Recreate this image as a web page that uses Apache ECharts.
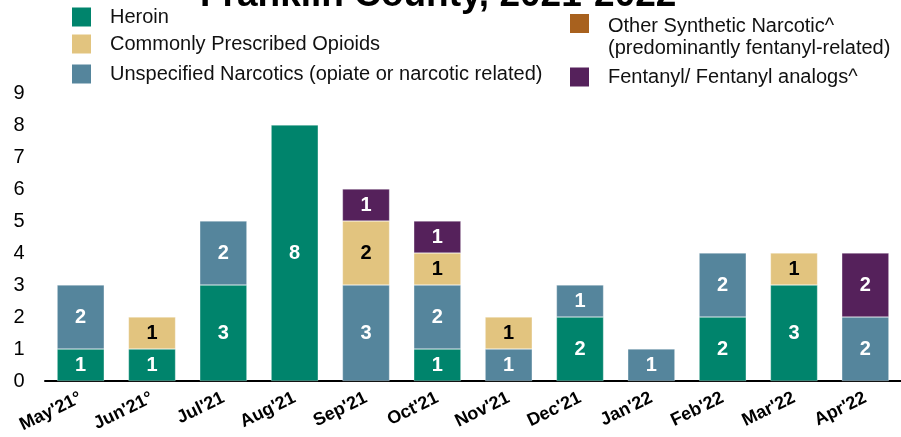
<!DOCTYPE html>
<html>
<head>
<meta charset="utf-8">
<script src="https://cdn.jsdelivr.net/npm/echarts@6/dist/echarts.min.js"></script>
<style>
html,body{margin:0;padding:0;background:#fff;}
#main{width:901px;height:437px;}
</style>
</head>
<body>
<div id="main"></div>
<script>
const categories = ["May'21°","Jun'21°","Jul'21","Aug'21","Sep'21","Oct'21","Nov'21","Dec'21","Jan'22","Feb'22","Mar'22","Apr'22"];
const heroin      = [1,1,3,8,0,1,0,2,0,2,3,0];
const unspecified = [2,0,2,0,3,2,1,1,1,2,0,2];
const prescribed  = [0,1,0,0,2,1,1,0,0,0,1,0];
const otherSynth  = [0,0,0,0,0,0,0,0,0,0,0,0];
const fentanyl    = [0,0,0,0,1,1,0,0,0,0,0,2];
const yTicks = [0,1,2,3,4,5,6,7,8,9];

const FONT = 'Liberation Sans, Arial, sans-serif';
const C = {
  heroin: '#00846C',
  prescribed: '#E2C47F',
  unspecified: '#55859C',
  other: '#A8611E',
  fentanyl: '#55215B'
};
const names = {
  heroin: 'Heroin',
  prescribed: 'Commonly Prescribed Opioids',
  unspecified: 'Unspecified Narcotics (opiate or narcotic related)',
  other: 'Other Synthetic Narcotic^\n(predominantly fentanyl-related)',
  fentanyl: 'Fentanyl/ Fentanyl analogs^'
};

function mkSeries(key, data, labelColor) {
  return {
    name: names[key],
    type: 'bar',
    stack: 'total',
    barCategoryGap: '34%',
    data: data.map(v => v === 0 ? null : v),
    itemStyle: { color: C[key], borderColor: 'rgba(255,255,255,0.6)', borderWidth: 0.5 },
    label: {
      show: true,
      position: 'inside',
      color: labelColor,
      fontFamily: FONT,
      fontWeight: 'bold',
      fontSize: 20
    },
    emphasis: { disabled: true }
  };
}

function mkLegend(key, left, top, opts) {
  opts = opts || {};
  const item = { name: names[key], itemStyle: { borderWidth: 0 } };
  if (opts.icon) item.icon = opts.icon;
  return {
    left: left, top: top,
    padding: 0,
    orient: 'vertical',
    itemWidth: 19, itemHeight: opts.itemHeight || 19,
    icon: 'rect',
    selectedMode: false,
    data: [item],
    textStyle: {
      fontFamily: FONT, fontSize: 20, color: '#111',
      padding: [0, 0, 0, 14], lineHeight: 22
    }
  };
}

const chart = echarts.init(document.getElementById('main'), null, { renderer: 'canvas' });
chart.setOption({
  animation: false,
  backgroundColor: '#fff',
  title: {
    text: 'Franklin County, 2021-2022',
    left: 195,
    top: -28,
    textStyle: { fontFamily: FONT, fontWeight: 'bold', fontSize: 37, color: '#000' }
  },
  legend: [
    mkLegend('heroin', 72, 6),
    mkLegend('prescribed', 72, 33),
    mkLegend('unspecified', 72, 63),
    mkLegend('other', 570, 14, { itemHeight: 46, icon: 'path://M0,0H19V19H0Z M0,46L0.01,46' }),
    mkLegend('fentanyl', 570, 66)
  ],
  grid: { left: 45, right: -11, top: 93, bottom: 56, containLabel: false },
  xAxis: {
    type: 'category',
    data: categories,
    axisLine: { show: true, lineStyle: { color: '#000', width: 2 } },
    axisTick: { show: false },
    axisLabel: {
      interval: 0,
      rotate: 26,
      margin: 16,
      fontFamily: FONT,
      fontWeight: 'bold',
      fontSize: 18,
      color: '#000'
    }
  },
  yAxis: {
    type: 'value',
    min: yTicks[0],
    max: yTicks[yTicks.length - 1],
    interval: 1,
    splitLine: { show: false },
    axisLine: { show: false },
    axisTick: { show: false },
    axisLabel: { fontFamily: FONT, fontSize: 20, color: '#000', margin: 26, align: 'center' }
  },
  series: [
    mkSeries('heroin', heroin, '#fff'),
    mkSeries('unspecified', unspecified, '#fff'),
    mkSeries('prescribed', prescribed, '#000'),
    mkSeries('other', otherSynth, '#fff'),
    mkSeries('fentanyl', fentanyl, '#fff')
  ]
});
</script>
</body>
</html>
